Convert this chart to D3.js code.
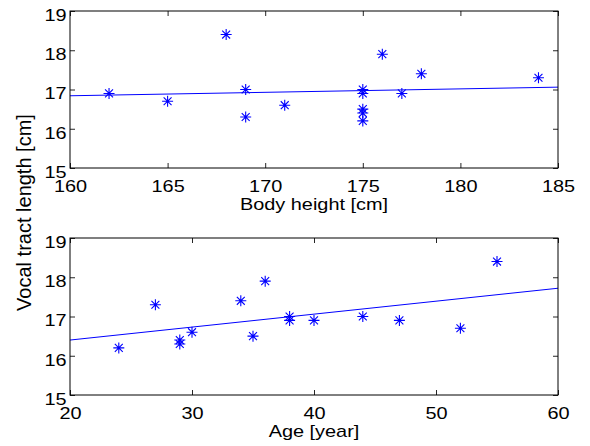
<!DOCTYPE html>
<meta charset="utf-8">
<script src="https://d3js.org/d3.v7.min.js"></script>
<style>
  body { margin: 0; background: #fff; }
  text { font-family: "Liberation Sans", Arial, sans-serif; }
</style>
<div id="chart"></div>
<script>
// Data
var heightX = [162, 165, 168, 169, 169, 171, 175, 175, 175, 175, 175, 176, 177, 178, 184];
var heightY = [16.9, 16.7, 18.4, 17.0, 16.3, 16.6, 17.0, 16.9, 16.5, 16.4, 16.2, 17.9, 16.9, 17.4, 17.3];
var heightFitX = [160, 185];
var heightFitY = [16.84, 17.06];

var ageX = [24, 27, 29, 29, 30, 34, 35, 36, 38, 38, 40, 44, 47, 52, 55];
var ageY = [16.2, 17.3, 16.4, 16.3, 16.6, 17.4, 16.5, 17.9, 17.0, 16.9, 16.9, 17.0, 16.9, 16.7, 18.4];
var ageFitX = [20, 60];
var ageFitY = [16.4, 17.72];

var yTicks = [15, 16, 17, 18, 19];
var heightTicks = [160, 165, 170, 175, 180, 185];
var ageTicks = [20, 30, 40, 50, 60];

var W = 590, H = 446;
var svg = d3.select("#chart").append("svg")
  .attr("width", W).attr("height", H);

var left = 70, right = 558;
var sx = 1.17; // the picture's text is a little wide

function panel(top, bottom, xs, ys, fx, fy, xdom, xticks, xlabel) {
  var x = d3.scaleLinear().domain(xdom).range([left, right]);
  var y = d3.scaleLinear().domain([15, 19]).range([bottom, top]);
  var g = svg.append("g");

  // fit line
  g.append("path")
    .datum(fx.map((v, i) => [v, fy[i]]))
    .attr("fill", "none")
    .attr("stroke", "#0000ff")
    .attr("stroke-width", 1)
    .attr("d", d3.line().x(d => x(d[0])).y(d => y(d[1])));

  // asterisk markers
  var r = 5.5, rd = r * 0.72;
  var star = "M" + (-r) + ",0L" + r + ",0M0," + (-r) + "L0," + r +
    "M" + (-rd) + "," + (-rd) + "L" + rd + "," + rd +
    "M" + (-rd) + "," + rd + "L" + rd + "," + (-rd);
  g.selectAll(".pt").data(xs.map((v, i) => [v, ys[i]])).enter()
    .append("path")
    .attr("transform", d => "translate(" + x(d[0]) + "," + y(d[1]) + ")")
    .attr("d", star)
    .attr("stroke", "#0000ff")
    .attr("stroke-width", 1.1)
    .attr("fill", "none");

  // axes with inward ticks, box
  var ax = g.append("g").attr("transform", "translate(0," + bottom + ")")
    .call(d3.axisBottom(x).tickValues(xticks).tickSizeInner(-5).tickSizeOuter(0).tickPadding(12));
  var axTop = g.append("g").attr("transform", "translate(0," + top + ")")
    .call(d3.axisTop(x).tickValues(xticks).tickSizeInner(-5).tickSizeOuter(0).tickFormat(""));
  var ay = g.append("g").attr("transform", "translate(" + left + ",0)")
    .call(d3.axisLeft(y).tickValues(yTicks).tickFormat(d3.format("d")).tickSizeInner(-5).tickSizeOuter(0));
  var ayR = g.append("g").attr("transform", "translate(" + right + ",0)")
    .call(d3.axisRight(y).tickValues(yTicks).tickSizeInner(-5).tickSizeOuter(0).tickFormat(""));
  [ax, axTop, ay, ayR].forEach(a => {
    a.selectAll(".domain").remove();
    a.selectAll("line").attr("stroke", "#262626");
    a.selectAll("text").attr("fill", "#000").style("font-size", "17px")
      .style("font-family", "'Liberation Sans', Arial, sans-serif");
  });
  ax.selectAll("text").attr("transform", "scale(" + sx + ",1)");
  ay.selectAll("text")
    .attr("x", -3.5 / sx)
    .attr("dy", "0.55em")
    .attr("transform", "scale(" + sx + ",1)");

  g.append("rect")
    .attr("x", left).attr("y", top)
    .attr("width", right - left).attr("height", bottom - top)
    .attr("fill", "none").attr("stroke", "#000").attr("stroke-width", 1);

  g.append("text")
    .attr("transform", "translate(" + ((left + right) / 2) + "," + (bottom + 42) + ") scale(" + sx + ",1)")
    .attr("text-anchor", "middle")
    .style("font-size", "17px")
    .text(xlabel);
}

panel(11, 168, heightX, heightY, heightFitX, heightFitY, [160, 185], heightTicks, "Body height [cm]");
panel(238, 395, ageX, ageY, ageFitX, ageFitY, [20, 60], ageTicks, "Age [year]");

svg.append("text")
  .attr("transform", "translate(31,212.5) rotate(-90)")
  .attr("text-anchor", "middle")
  .style("font-size", "20px")
  .text("Vocal tract length [cm]");
</script>
